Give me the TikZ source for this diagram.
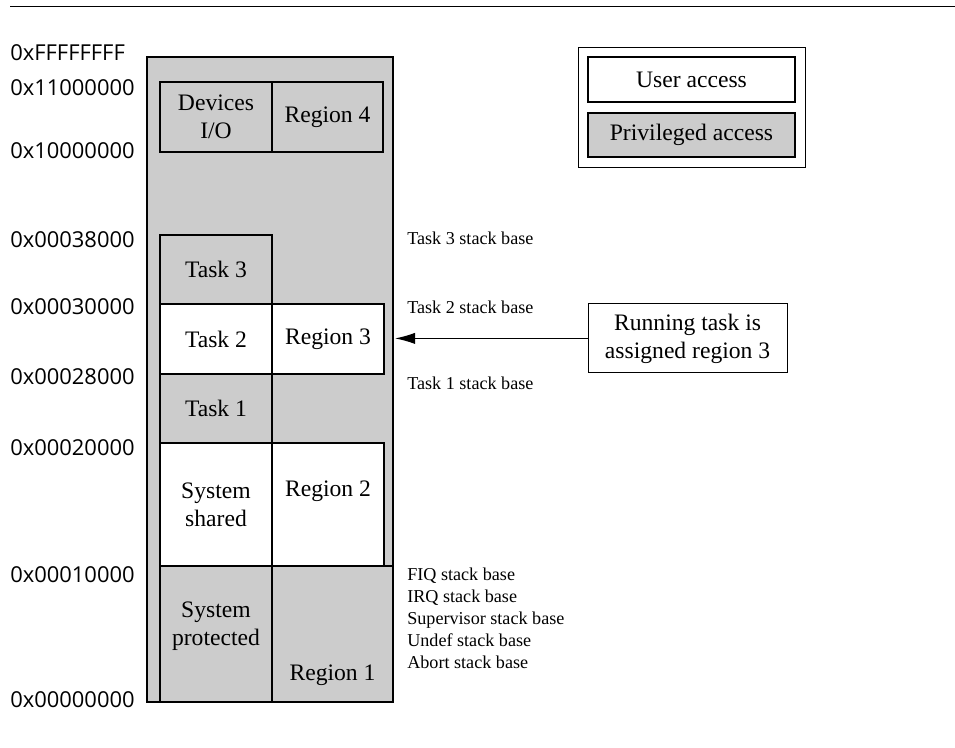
\documentclass[tikz,border=0pt]{standalone}
\usepackage{fontspec}
\setmainfont{Liberation Serif}
\newfontfamily\addrfont{Open Sans}
\usetikzlibrary{positioning,arrows.meta}

\begin{document}
\begin{tikzpicture}[
            priv/.style={draw,thick,rectangle,fill=black!20,inner sep=0pt,outer sep=0pt,align=center},
            usr/.style={priv,fill=white},
            cell/.style={minimum width=2.8cm},
            addr/.style={anchor=west,inner sep=0pt,font=\addrfont\fontsize{15.6}{18}\selectfont},
            note/.style={anchor=west,inner sep=0pt,align=left,font=\fontsize{12.9}{15.6}\selectfont},
            font=\fontsize{16.8}{19.9}\selectfont
        ]

        \useasboundingbox (0,0) rectangle (23.875,-18.675);
        \draw[line width=0.9pt] (0.25,-0.1625) -- (23.875,-0.1625);

        % memory map
        \node[priv,anchor=north west,minimum width=6.15cm,minimum height=16.125cm] (mem) at (3.675,-1.425) {};
        \node[priv,cell,anchor=north west,minimum height=1.75cm] (devices) at (4.0,-2.05) {Devices\\I/O};
        \node[priv,right=0pt of devices,minimum width=2.775cm,minimum height=1.75cm] (region4) {Region 4};
        \node[priv,cell,anchor=north west,minimum height=1.725cm] (task3) at (4.0,-5.875) {Task 3};
        \node[usr,cell,below=0pt of task3,minimum height=1.75cm] (task2) {Task 2};
        \node[usr,cell,right=0pt of task2,minimum height=1.75cm] (region3) {Region 3};
        \node[priv,cell,below=0pt of task2,minimum height=1.725cm] (task1) {Task 1};
        \node[usr,cell,below=0pt of task1,minimum height=3.075cm] (shared) {System\\shared};
        \node[usr,cell,right=0pt of shared,minimum height=3.075cm,
            label={[anchor=center,yshift=-1.2cm]north:Region 2}] (region2) {};
        \node[priv,cell,below=0pt of shared,minimum height=3.4cm,
            label={[align=center,anchor=center,yshift=0.2cm]center:System\\protected}] (protected) {};
        \node[priv,right=0pt of protected,minimum width=3.025cm,minimum height=3.4cm,
            label={[anchor=center,yshift=0.675cm]south:Region 1}] (region1) {};

        % addresses
        \foreach \y/\a [count=\i] in {1.325/FFFFFFFF,2.2/11000000,3.775/10000000,6.0/00038000,
            7.675/00030000,9.425/00028000,11.2/00020000,14.375/00010000,17.5/00000000}
            \node[addr] (addr\i) at (0.25,-\y) {0x\a};

        % stack bases
        \node[note] (base3) at (10.175,-5.95) {Task 3 stack base};
        \node[note] (base2) at (10.175,-7.675) {Task 2 stack base};
        \node[note] (base1) at (10.175,-9.575) {Task 1 stack base};
        \node[note] (sysbase) at (10.175,-15.45) {FIQ stack base\\IRQ stack base\\Supervisor stack base\\Undef stack base\\Abort stack base};

        \node[usr,minimum width=4.975cm,minimum height=1.725cm] (running) at (17.19,-8.46) {Running task is\\assigned region 3};
        \draw[-{Latex[length=5mm,width=2.8mm]},thick] (running.west) -- ([xshift=0.05cm]running.west -| mem.east);

        % legend
        \node[draw,semithick,rectangle,anchor=north west,minimum width=5.675cm,minimum height=3cm] (legend) at (14.45,-1.175) {};
        \node[usr,anchor=north west,minimum width=5.175cm,minimum height=1.125cm] (user) at (14.7,-1.425) {User access};
        \node[priv,anchor=north west,minimum width=5.175cm,minimum height=1.1cm] (privileged) at (14.7,-2.825) {Privileged access};

    \end{tikzpicture}
\end{document}
